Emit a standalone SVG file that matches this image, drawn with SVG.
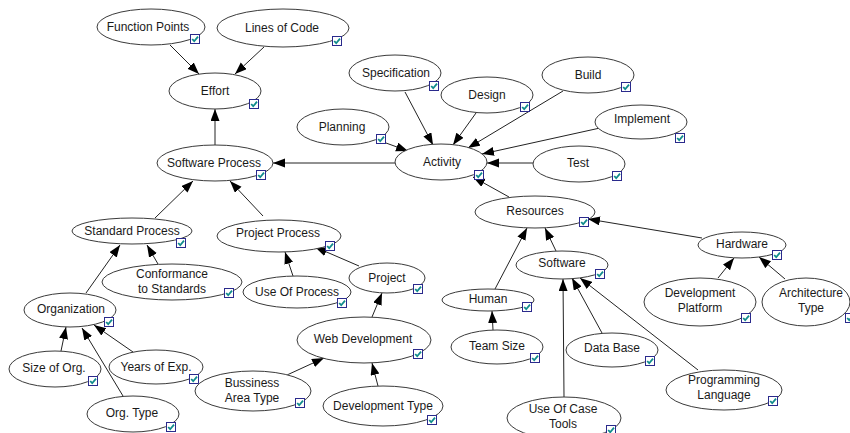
<svg xmlns="http://www.w3.org/2000/svg" xmlns:xlink="http://www.w3.org/1999/xlink" width="850" height="433" viewBox="0 0 850 433">
<style>
.n ellipse{fill:#fff;stroke:#3a3a3a;stroke-width:1}
.n text{font-family:"Liberation Sans",Arial,sans-serif;font-size:12px;fill:#1a1a1a;text-anchor:middle}
.e line{stroke:#222;stroke-width:1;marker-end:url(#arr)}
</style>
<defs>
<marker id="arr" markerUnits="userSpaceOnUse" markerWidth="12" markerHeight="10" refX="12" refY="4.5" orient="auto">
<path d="M0,0 L12,4.5 L0,9 z" fill="#000"/>
</marker>
<symbol id="cb" overflow="visible">
<rect x="0.5" y="0.5" width="9" height="9" fill="#fff" stroke="#2a2a8c" stroke-width="1"/>
<path d="M2.2,5 L4.2,7.2 L8,2.6" fill="none" stroke="#108c8c" stroke-width="1.8"/>
</symbol>
</defs>
<rect width="850" height="433" fill="#fff"/>
<g id="connectors" class="e">
<line x1="170" y1="45" x2="199" y2="74"/>
<line x1="264" y1="47" x2="235" y2="74"/>
<line x1="215" y1="145" x2="215" y2="109"/>
<line x1="395" y1="163" x2="273" y2="163"/>
<line x1="386" y1="143" x2="408" y2="151"/>
<line x1="405" y1="92" x2="433" y2="145"/>
<line x1="476" y1="113" x2="453" y2="145"/>
<line x1="563" y1="91" x2="468" y2="148"/>
<line x1="600" y1="128" x2="482" y2="154"/>
<line x1="533" y1="163" x2="487" y2="163"/>
<line x1="509" y1="197" x2="473" y2="177"/>
<line x1="702" y1="238" x2="588" y2="219"/>
<line x1="556" y1="251" x2="545" y2="228"/>
<line x1="495" y1="289" x2="527" y2="228"/>
<line x1="493" y1="330" x2="492" y2="311"/>
<line x1="564" y1="397" x2="563" y2="279"/>
<line x1="602" y1="333" x2="572" y2="278"/>
<line x1="698" y1="370" x2="580" y2="278"/>
<line x1="718" y1="278" x2="734" y2="258"/>
<line x1="785" y1="279" x2="759" y2="257"/>
<line x1="155" y1="218" x2="193" y2="181"/>
<line x1="263" y1="216" x2="230" y2="181"/>
<line x1="86" y1="293" x2="120" y2="245"/>
<line x1="158" y1="264" x2="147" y2="245"/>
<line x1="293" y1="276" x2="285" y2="252"/>
<line x1="359" y1="266" x2="315" y2="247"/>
<line x1="372" y1="317" x2="382" y2="293"/>
<line x1="287" y1="375" x2="324" y2="358"/>
<line x1="378" y1="386" x2="372" y2="363"/>
<line x1="61" y1="351" x2="66" y2="327"/>
<line x1="123" y1="396" x2="82" y2="328"/>
<line x1="133" y1="352" x2="94" y2="325"/>
</g>
<g id="function-points" class="n"><ellipse cx="151" cy="27" rx="54" ry="18"/><text x="148" y="31">Function Points</text><use xlink:href="#cb" x="190" y="34"/></g>
<g id="lines-of-code" class="n"><ellipse cx="283" cy="28" rx="66" ry="19"/><text x="282" y="32">Lines of Code</text><use xlink:href="#cb" x="332" y="36"/></g>
<g id="effort" class="n"><ellipse cx="215" cy="91" rx="46" ry="18"/><text x="215" y="95">Effort</text><use xlink:href="#cb" x="249" y="99"/></g>
<g id="software-process" class="n"><ellipse cx="215" cy="163" rx="58" ry="18"/><text x="214" y="167">Software Process</text><use xlink:href="#cb" x="256" y="170"/></g>
<g id="planning" class="n"><ellipse cx="343" cy="127" rx="46" ry="18"/><text x="342" y="131">Planning</text><use xlink:href="#cb" x="376" y="134"/></g>
<g id="specification" class="n"><ellipse cx="395" cy="73" rx="46" ry="18"/><text x="396" y="77">Specification</text><use xlink:href="#cb" x="429" y="81"/></g>
<g id="design" class="n"><ellipse cx="487" cy="95" rx="46" ry="18"/><text x="487" y="99">Design</text><use xlink:href="#cb" x="520" y="102"/></g>
<g id="build" class="n"><ellipse cx="588" cy="75" rx="46" ry="18"/><text x="588" y="79">Build</text><use xlink:href="#cb" x="621" y="82"/></g>
<g id="implement" class="n"><ellipse cx="641" cy="122" rx="46" ry="17"/><text x="642" y="123">Implement</text><use xlink:href="#cb" x="675" y="133"/></g>
<g id="activity" class="n"><ellipse cx="441" cy="162" rx="46" ry="18"/><text x="442" y="166">Activity</text><use xlink:href="#cb" x="474" y="170"/></g>
<g id="test" class="n"><ellipse cx="579" cy="164" rx="46" ry="18"/><text x="578" y="167">Test</text><use xlink:href="#cb" x="612" y="171"/></g>
<g id="resources" class="n"><ellipse cx="535" cy="212" rx="60" ry="16"/><text x="535" y="215">Resources</text><use xlink:href="#cb" x="579" y="217"/></g>
<g id="software" class="n"><ellipse cx="562" cy="265" rx="46" ry="14"/><text x="562" y="267">Software</text><use xlink:href="#cb" x="595" y="269"/></g>
<g id="hardware" class="n"><ellipse cx="742" cy="245" rx="44" ry="13"/><text x="742" y="248">Hardware</text><use xlink:href="#cb" x="772" y="250"/></g>
<g id="human" class="n"><ellipse cx="488" cy="300" rx="46" ry="11"/><text x="488" y="303">Human</text><use xlink:href="#cb" x="522" y="302"/></g>
<g id="team-size" class="n"><ellipse cx="497" cy="347" rx="46" ry="17"/><text x="497" y="350">Team Size</text><use xlink:href="#cb" x="530" y="353"/></g>
<g id="data-base" class="n"><ellipse cx="612" cy="350" rx="46" ry="17"/><text x="612" y="352">Data Base</text><use xlink:href="#cb" x="645" y="356"/></g>
<g id="development-platform" class="n"><ellipse cx="700" cy="302" rx="56" ry="24"/><text x="700" y="297">Development</text><text x="700" y="312">Platform</text><use xlink:href="#cb" x="741" y="313"/></g>
<g id="architecture-type" class="n"><ellipse cx="806" cy="302" rx="44" ry="24"/><text x="811" y="297">Architecture</text><text x="811" y="312">Type</text><use xlink:href="#cb" x="845" y="313"/></g>
<g id="programming-language" class="n"><ellipse cx="724" cy="390" rx="58" ry="20"/><text x="724" y="384">Programming</text><text x="724" y="399">Language</text><use xlink:href="#cb" x="768" y="396"/></g>
<g id="use-of-case-tools" class="n"><ellipse cx="564" cy="418" rx="57" ry="21"/><text x="563" y="413">Use Of Case</text><text x="563" y="428">Tools</text><use xlink:href="#cb" x="606" y="425"/></g>
<g id="standard-process" class="n"><ellipse cx="132" cy="231" rx="60" ry="13"/><text x="132" y="235">Standard Process</text><use xlink:href="#cb" x="176" y="238"/></g>
<g id="project-process" class="n"><ellipse cx="279" cy="236" rx="62" ry="16"/><text x="278" y="237">Project Process</text><use xlink:href="#cb" x="325" y="241"/></g>
<g id="conformance-to-standards" class="n"><ellipse cx="172" cy="282" rx="70" ry="18"/><text x="172" y="278">Conformance</text><text x="172" y="293">to Standards</text><use xlink:href="#cb" x="224" y="288"/></g>
<g id="organization" class="n"><ellipse cx="70" cy="310" rx="46" ry="17"/><text x="71" y="313">Organization</text><use xlink:href="#cb" x="104" y="317"/></g>
<g id="use-of-process" class="n"><ellipse cx="297" cy="292" rx="54" ry="16"/><text x="297" y="296">Use Of Process</text><use xlink:href="#cb" x="337" y="298"/></g>
<g id="project" class="n"><ellipse cx="387" cy="278" rx="38" ry="15"/><text x="387" y="282">Project</text><use xlink:href="#cb" x="413" y="284"/></g>
<g id="web-development" class="n"><ellipse cx="364" cy="340" rx="67" ry="23"/><text x="363" y="343">Web Development</text><use xlink:href="#cb" x="413" y="349"/></g>
<g id="size-of-org" class="n"><ellipse cx="55" cy="369" rx="46" ry="18"/><text x="54" y="372">Size of Org.</text><use xlink:href="#cb" x="88" y="376"/></g>
<g id="years-of-exp" class="n"><ellipse cx="156" cy="367" rx="47" ry="17"/><text x="156" y="371">Years of Exp.</text><use xlink:href="#cb" x="189" y="374"/></g>
<g id="org-type" class="n"><ellipse cx="133" cy="414" rx="46" ry="18"/><text x="132" y="417">Org. Type</text><use xlink:href="#cb" x="166" y="422"/></g>
<g id="bussiness-area-type" class="n"><ellipse cx="253" cy="391" rx="58" ry="20"/><text x="252" y="387">Bussiness</text><text x="252" y="402">Area Type</text><use xlink:href="#cb" x="295" y="398"/></g>
<g id="development-type" class="n"><ellipse cx="383" cy="406" rx="60" ry="20"/><text x="383" y="410">Development Type</text><use xlink:href="#cb" x="427" y="415"/></g>
</svg>
